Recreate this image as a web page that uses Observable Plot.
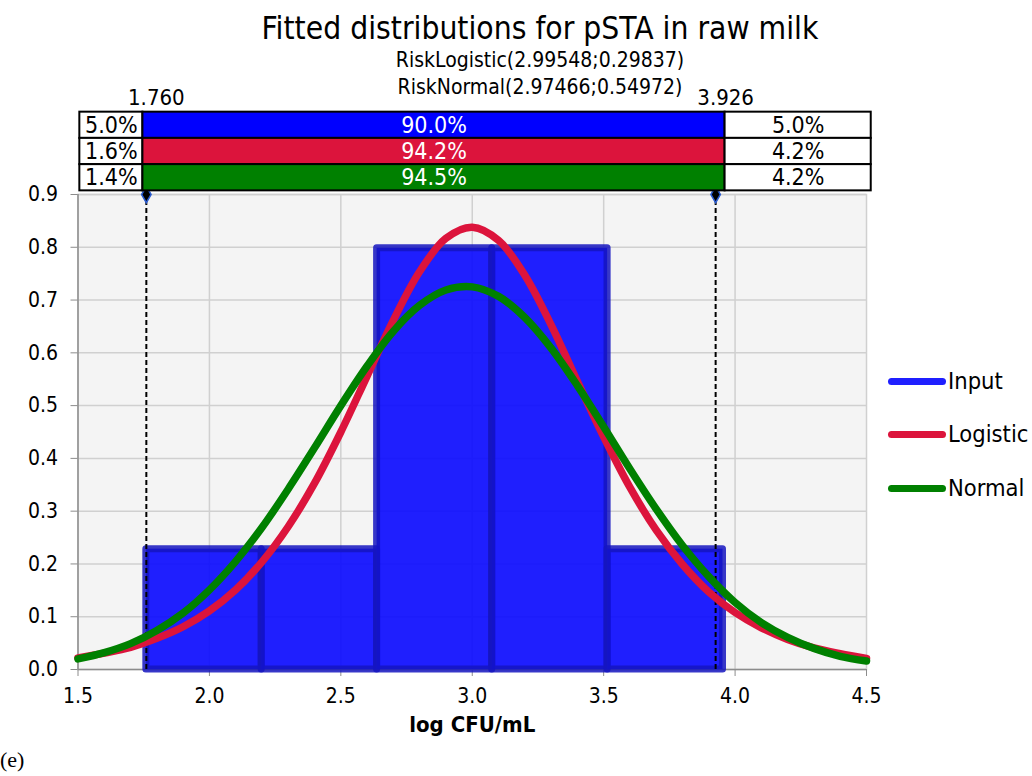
<!DOCTYPE html>
<html>
<head>
<meta charset="utf-8">
<script src="https://cdn.jsdelivr.net/npm/d3@7"></script>
<script src="https://cdn.jsdelivr.net/npm/@observablehq/plot@0.6"></script>
<style>
  html, body { margin: 0; padding: 0; background: #fff; }
  #wrap { position: relative; width: 1032px; height: 776px; overflow: hidden; font-family: "DejaVu Sans Condensed", "DejaVu Sans", sans-serif; color: #000; }
  #chart { position: absolute; left: 0; top: 0; }
  .t { position: absolute; white-space: nowrap; line-height: 1; }
  #title { left: 0; width: 1080px; text-align: center; top: 13px; font-size: 31.5px; }
  #sub1 { left: 0; width: 1080px; text-align: center; top: 50px; font-size: 21px; }
  #sub2 { left: 0; width: 1080px; text-align: center; top: 77px; font-size: 21px; }
  #legend .item { position: absolute; left: 888px; height: 22px; }
  #legend .sw { position: absolute; left: 0; top: 8px; width: 58px; height: 7px; border-radius: 4px; }
  #legend .lb { position: absolute; left: 60px; top: 0; font-size: 23.5px; line-height: 22px; white-space: nowrap; }
  #tag { left: 0px; top: 749px; font-family: "Liberation Serif", serif; font-size: 22px; }
</style>
</head>
<body>
<div id="wrap">
  <div id="chart"></div>
  <div class="t" id="title">Fitted distributions for pSTA in raw milk</div>
  <div class="t" id="sub1">RiskLogistic(2.99548;0.29837)</div>
  <div class="t" id="sub2">RiskNormal(2.97466;0.54972)</div>
  <div id="legend"></div>
  <div class="t" id="tag">(e)</div>
</div>
<script>
// ---- data ----
const seriesNames = ["Input", "Logistic", "Normal"];
const seriesColors = ["#1f1fff", "#dc143c", "#008000"];
const tableColors = ["#0000ff", "#dc143c", "#008000"];

const binEdges = [1.760, 2.199, 2.638, 3.076, 3.515, 3.954];
const binDensity = [0.228, 0.228, 0.798, 0.798, 0.228];

const curveX = [1.5,1.6,1.7,1.8,1.9,2.0,2.1,2.2,2.3,2.4,2.5,2.6,2.7,2.8,2.9,3.0,3.1,3.2,3.3,3.4,3.5,3.6,3.7,3.8,3.9,4.0,4.1,4.2,4.3,4.4,4.5];
const logisticY = [0.022,0.031,0.042,0.059,0.081,0.111,0.151,0.204,0.271,0.353,0.450,0.556,0.662,0.754,0.817,0.838,0.813,0.747,0.653,0.546,0.441,0.345,0.264,0.199,0.147,0.108,0.079,0.057,0.041,0.030,0.021];
const normalY = [0.020,0.032,0.049,0.074,0.107,0.151,0.205,0.269,0.342,0.420,0.500,0.575,0.641,0.690,0.719,0.725,0.707,0.667,0.609,0.538,0.460,0.380,0.304,0.235,0.176,0.127,0.089,0.061,0.040,0.025,0.016];

const markerValues = [1.760, 3.926];
const markerLabels = ["1.760", "3.926"];
const leftPct = ["5.0%", "1.6%", "1.4%"];
const midPct = ["90.0%", "94.2%", "94.5%"];
const rightPct = ["5.0%", "4.2%", "4.2%"];

const xTicks = [1.5, 2.0, 2.5, 3.0, 3.5, 4.0, 4.5];
const yTicks = [0.0, 0.1, 0.2, 0.3, 0.4, 0.5, 0.6, 0.7, 0.8, 0.9];
const xLabel = "log CFU/mL";

// ---- derived tables ----
const bins = binDensity.map((d, i) => ({x1: binEdges[i], x2: binEdges[i + 1], y: d}));
const logistic = curveX.map((x, i) => ({x, y: logisticY[i]}));
const normal = curveX.map((x, i) => ({x, y: normalY[i]}));

// table geometry (in data units of the chart's scales)
const tblLeft = 1.507, tblMidL = 1.747, tblMidR = 3.962, tblRight = 4.518;
const rowTop0 = 1.056, rowH = 0.0497;
const rows = seriesNames.map((s, i) => ({
  i, top: rowTop0 - i * rowH, bottom: rowTop0 - (i + 1) * rowH,
  mid: rowTop0 - (i + 0.5) * rowH, color: tableColors[i],
  left: leftPct[i], center: midPct[i], right: rightPct[i]
}));

const FF = '"DejaVu Sans Condensed", "DejaVu Sans", sans-serif';
const W = 1032, H = 776;
const chart = Plot.plot({
  width: W, height: H,
  marginLeft: 77.5, marginRight: 166, marginTop: 194, marginBottom: 107,
  x: {domain: [1.5, 4.5]},
  y: {domain: [0, 0.9]},
  style: {fontFamily: FF, fontSize: "21px", color: "#000", background: "transparent", overflow: "visible"},
  marks: [
    Plot.frame({fill: "#f4f4f4", stroke: "#d0d0d0", strokeWidth: 1.5}),
    Plot.gridY(yTicks.slice(1), {stroke: "#d0d0d0", strokeOpacity: 1, strokeWidth: 1.5}),
    Plot.gridX(xTicks.slice(1, -1), {stroke: "#d0d0d0", strokeOpacity: 1, strokeWidth: 1.5}),
    Plot.ruleX([1.5], {stroke: "#8c8c8c", strokeWidth: 1.5}),
    Plot.ruleY([0], {stroke: "#8c8c8c", strokeWidth: 1.5}),
    Plot.axisY({ticks: yTicks, tickFormat: d => d.toFixed(1), tickSize: 7, tickPadding: 13, stroke: "#8c8c8c", label: null, fontSize: 21}),
    Plot.axisX({ticks: xTicks, tickFormat: d => d.toFixed(1), tickSize: 7, tickPadding: 12, stroke: "#8c8c8c", label: null, fontSize: 21}),
    Plot.text([xLabel], {frameAnchor: "bottom", dy: 62, fontWeight: "bold", fontSize: 22, fontFamily: FF}),
    // histogram
    Plot.rectY(bins, {x1: "x1", x2: "x2", y: "y", fill: "#0808ff", fillOpacity: 0.9, stroke: "#1515c0", strokeOpacity: 0.85, strokeWidth: 7, strokeLinejoin: "round", inset: 0}),
    // percentile markers
    Plot.ruleX(markerValues, {y1: 0, y2: 0.9, stroke: "#000", strokeWidth: 2, strokeDasharray: "5,3"}),
    // fitted curves
    Plot.line(logistic, {x: "x", y: "y", stroke: seriesColors[1], strokeWidth: 7.5, curve: "catmull-rom"}),
    Plot.line(normal, {x: "x", y: "y", stroke: seriesColors[2], strokeWidth: 7.5, curve: "catmull-rom"}),
    Plot.dot(markerValues, {x: d => d, y: () => 0.9, symbol: "diamond", r: 5, fill: "#000", stroke: "#2a5bd0", strokeWidth: 1.5}),
    // table above the plot
    Plot.rect(rows, {x1: () => tblLeft, x2: () => tblMidL, y1: "bottom", y2: "top", fill: "#fff", stroke: "#000", strokeWidth: 2}),
    Plot.rect(rows, {x1: () => tblMidL, x2: () => tblMidR, y1: "bottom", y2: "top", fill: "color", stroke: "#000", strokeWidth: 2}),
    Plot.rect(rows, {x1: () => tblMidR, x2: () => tblRight, y1: "bottom", y2: "top", fill: "#fff", stroke: "#000", strokeWidth: 2}),
    Plot.text(rows, {x: () => (tblLeft + tblMidL) / 2, y: "mid", text: "left", fill: "#000", fontSize: 23}),
    Plot.text(rows, {x: () => (tblMidL + tblMidR) / 2, y: "mid", text: "center", fill: "#fff", fontSize: 23}),
    Plot.text(rows, {x: () => (tblMidR + tblRight) / 2, y: "mid", text: "right", fill: "#000", fontSize: 23}),
    Plot.text(markerValues, {x: d => d, y: () => 1.083, text: (d, i) => markerLabels[i], dx: 10, fill: "#000", fontSize: 22})
  ]
});
document.getElementById("chart").appendChild(chart);

// legend
const legend = document.getElementById("legend");
const legendTops = [370, 423, 477];
seriesNames.forEach((name, i) => {
  const item = document.createElement("div");
  item.className = "item";
  item.style.top = legendTops[i] + "px";
  const sw = document.createElement("div");
  sw.className = "sw";
  sw.style.background = seriesColors[i];
  const lb = document.createElement("div");
  lb.className = "lb";
  lb.textContent = name;
  item.appendChild(sw); item.appendChild(lb);
  legend.appendChild(item);
});
</script>
</body>
</html>
